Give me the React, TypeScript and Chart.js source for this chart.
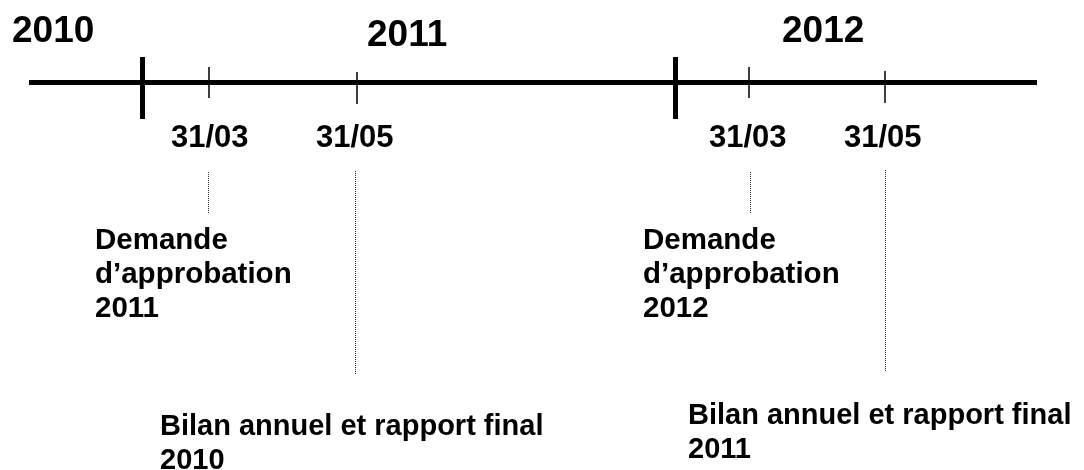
import React, { useEffect, useRef } from "react";
import Chart from "chart.js/auto";

// Timeline data (positions on the diagram's own horizontal scale, levels on the vertical scale)
const axisExtent = [29, 1037];
const axisLevel = 82.5;

const yearNames = ["2010", "2011", "2012"];
const yearNamePos = [12, 367, 782];
const yearNameLevel = [42, 46, 42];

const boundaryPos = [142.5, 675.5];
const boundaryTop = [57, 57];
const boundaryBottom = [119, 119];

const milestoneNames = ["31/03", "31/05", "31/03", "31/05"];
const milestonePos = [209, 357, 749, 885];
const milestoneTop = [67, 72, 67, 71];
const milestoneBottom = [98, 104, 98, 103];
const milestoneLabelPos = [171, 316, 709, 844];
const milestoneLabelLevel = [146.5, 146.5, 146.5, 146.5];

const leaderPos = [208.5, 355.5, 750.5, 885.5];
const leaderTop = [172, 171, 172, 170];
const leaderBottom = [213, 374, 213, 372];

const noteLines = [
  ["Demande", "d\u2019approbation", "2011"],
  ["Bilan annuel et rapport final", "2010"],
  ["Demande", "d\u2019approbation", "2012"],
  ["Bilan annuel et rapport final", "2011"],
];
const notePos = [95, 160, 643, 688];
const noteLevel = [249, 435, 249, 424];

const FONT = '"Liberation Sans", Arial, Helvetica, sans-serif';

function segments(pos: number[], top: number[], bottom: number[]) {
  const pts: { x: number; y: number | null }[] = [];
  pos.forEach((p, i) => {
    if (i > 0) pts.push({ x: p, y: null });
    pts.push({ x: p, y: top[i] });
    pts.push({ x: p, y: bottom[i] });
  });
  return pts;
}

const textPlugin = {
  id: "timelineText",
  afterDatasetsDraw(chart: any) {
    const { ctx, scales } = chart;
    const xs = scales.x;
    const ys = scales.y;
    ctx.save();
    ctx.fillStyle = "#000";
    ctx.textBaseline = "alphabetic";
    ctx.textAlign = "left";
    ctx.font = `bold 37px ${FONT}`;
    yearNames.forEach((t, i) => {
      ctx.fillText(t, xs.getPixelForValue(yearNamePos[i]), ys.getPixelForValue(yearNameLevel[i]));
    });
    ctx.font = `bold 31px ${FONT}`;
    milestoneNames.forEach((t, i) => {
      ctx.fillText(t, xs.getPixelForValue(milestoneLabelPos[i]), ys.getPixelForValue(milestoneLabelLevel[i]));
    });
    noteLines.forEach((lines, i) => {
      const isBilan = i % 2 === 1;
      ctx.font = `bold ${isBilan ? 29 : 29.5}px ${FONT}`;
      const step = 34;
      lines.forEach((l, j) => {
        ctx.fillText(l, xs.getPixelForValue(notePos[i]), ys.getPixelForValue(noteLevel[i] + j * step));
      });
    });
    ctx.restore();
  },
};

export default function App() {
  const ref = useRef<HTMLCanvasElement | null>(null);
  useEffect(() => {
    if (!ref.current) return;
    const chart = new Chart(ref.current, {
      type: "line",
      data: {
        datasets: [
          {
            data: [
              { x: axisExtent[0], y: axisLevel },
              { x: axisExtent[1], y: axisLevel },
            ],
            borderColor: "#000",
            borderWidth: 5,
            pointRadius: 0,
          },
          {
            data: segments(boundaryPos, boundaryTop, boundaryBottom),
            borderColor: "#000",
            borderWidth: 5,
            pointRadius: 0,
            spanGaps: false,
          },
          {
            data: segments(milestonePos, milestoneTop, milestoneBottom),
            borderColor: "#000",
            borderWidth: 1.5,
            pointRadius: 0,
            spanGaps: false,
          },
          {
            data: segments(leaderPos, leaderTop, leaderBottom),
            borderColor: "#333",
            borderWidth: 1,
            borderDash: [1, 1],
            pointRadius: 0,
            spanGaps: false,
          },
        ],
      },
      options: {
        animation: false,
        responsive: false,
        maintainAspectRatio: false,
        layout: { padding: 0 },
        events: [],
        plugins: { legend: { display: false }, tooltip: { enabled: false } },
        scales: {
          x: { type: "linear", min: 0, max: 1084, display: false },
          y: { type: "linear", min: 0, max: 470, reverse: true, display: false },
        },
      },
      plugins: [textPlugin],
    });
    return () => chart.destroy();
  }, []);
  return (
    <div style={{ position: "fixed", left: 0, top: 0, width: 1084, height: 470, background: "#fff" }}>
      <canvas ref={ref} width={1084} height={470} style={{ display: "block", width: 1084, height: 470 }} />
    </div>
  );
}
